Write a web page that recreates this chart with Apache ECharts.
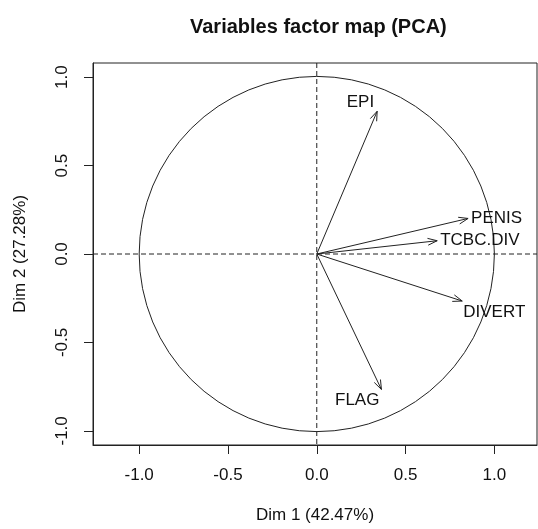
<!doctype html>
<html>
<head>
<meta charset="UTF-8">
<title>Variables factor map (PCA)</title>
<style>
  body { margin: 0; background: #fff; }
  #main { width: 538px; height: 529px; }
</style>
</head>
<body>
<div id="main"></div>
<script src="https://cdn.jsdelivr.net/npm/echarts@6/dist/echarts.min.js"></script>
<script>
// variable coordinates on the first two dimensions
var variables = ['EPI', 'PENIS', 'TCBC.DIV', 'DIVERT', 'FLAG'];
var dim1 = [0.34, 0.852, 0.678, 0.819, 0.364];
var dim2 = [0.807, 0.201, 0.075, -0.266, -0.766];
var tickValues = [-1, -0.5, 0, 0.5, 1];

// where each label sits next to its arrow tip (pixels)
var labelPlace = {
    'EPI':      { dx: -3, dy: -9, align: 'right' },
    'PENIS':    { dx: 3,  dy: 0,  align: 'left' },
    'TCBC.DIV': { dx: 3,  dy: 0,  align: 'left' },
    'DIVERT':   { dx: 1,  dy: 11, align: 'left' },
    'FLAG':     { dx: -2, dy: 11, align: 'right' }
};

var ink = '#222';
var fontFam = '"Liberation Sans", Arial, Helvetica, sans-serif';

var arrowData = variables.map(function (v, i) { return [dim1[i], dim2[i]]; });

function renderArrow(params, api) {
    var o = api.coord([0, 0]);
    var p = api.coord([api.value(0), api.value(1)]);
    var ang = Math.atan2(p[1] - o[1], p[0] - o[0]);
    var len = 10, a = Math.PI / 9;
    var h1 = [p[0] - len * Math.cos(ang - a), p[1] - len * Math.sin(ang - a)];
    var h2 = [p[0] - len * Math.cos(ang + a), p[1] - len * Math.sin(ang + a)];
    var name = variables[params.dataIndex];
    var lp = labelPlace[name];
    return {
        type: 'group',
        children: [
            { type: 'line', shape: { x1: o[0], y1: o[1], x2: p[0], y2: p[1] },
              style: { stroke: ink, lineWidth: 1 } },
            { type: 'polyline', shape: { points: [h1, p, h2] },
              style: { stroke: ink, fill: null, lineWidth: 1 } },
            { type: 'text', x: p[0] + lp.dx, y: p[1] + lp.dy,
              style: { text: name, fill: '#111', font: '17px ' + fontFam,
                       align: lp.align, verticalAlign: 'middle' } }
        ]
    };
}

// unit circle plus the dashed zero lines
function renderFrame(params, api) {
    var cs = params.coordSys;
    var o = api.coord([0, 0]);
    var r = api.size([1, 1])[0];
    var dash = { stroke: ink, lineWidth: 1, lineDash: [5, 3] };
    return {
        type: 'group',
        children: [
            { type: 'circle', shape: { cx: o[0], cy: o[1], r: r },
              style: { stroke: ink, fill: null, lineWidth: 1 } },
            { type: 'line', shape: { x1: cs.x, y1: o[1], x2: cs.x + cs.width, y2: o[1] }, style: dash },
            { type: 'line', shape: { x1: o[0], y1: cs.y, x2: o[0], y2: cs.y + cs.height }, style: dash }
        ]
    };
}

var chart = echarts.init(document.getElementById('main'), null, { renderer: 'canvas' });

chart.setOption({
    animation: false,
    backgroundColor: '#fff',
    textStyle: { fontFamily: fontFam },
    title: {
        text: 'Variables factor map (PCA)',
        left: 185,
        top: 12,
        textStyle: { fontSize: 20, fontWeight: 'bold', color: '#111', fontFamily: fontFam }
    },
    grid: {
        left: 93, top: 63, width: 444, height: 384,
        show: true, borderColor: ink, borderWidth: 1,
        containLabel: false
    },
    xAxis: {
        type: 'value',
        min: -1.26, max: 1.24,
        name: 'Dim 1 (42.47%)',
        nameLocation: 'middle',
        nameGap: 62,
        nameTextStyle: { fontSize: 17, color: '#111' },
        axisLine: { show: true, onZero: false, lineStyle: { color: ink } },
        axisTick: { show: true, length: 9, customValues: tickValues, lineStyle: { color: ink } },
        axisLabel: { customValues: tickValues, fontSize: 17, color: '#111', margin: 22,
                     formatter: function (v) { return v.toFixed(1); } },
        splitLine: { show: false }
    },
    yAxis: {
        type: 'value',
        min: -1.08, max: 1.08,
        name: 'Dim 2 (27.28%)',
        nameLocation: 'middle',
        nameGap: 64,
        nameTextStyle: { fontSize: 17, color: '#111' },
        axisLine: { show: true, onZero: false, lineStyle: { color: ink } },
        axisTick: { show: true, length: 9, customValues: tickValues, lineStyle: { color: ink } },
        axisLabel: { customValues: tickValues, fontSize: 17, color: '#111', margin: 22, rotate: 90,
                     formatter: function (v) { return v.toFixed(1); } },
        splitLine: { show: false }
    },
    series: [
        { type: 'custom', renderItem: renderFrame, data: [[0, 0]], silent: true, clip: false },
        { type: 'custom', renderItem: renderArrow, data: arrowData, silent: true, clip: false }
    ]
});
</script>
</body>
</html>
